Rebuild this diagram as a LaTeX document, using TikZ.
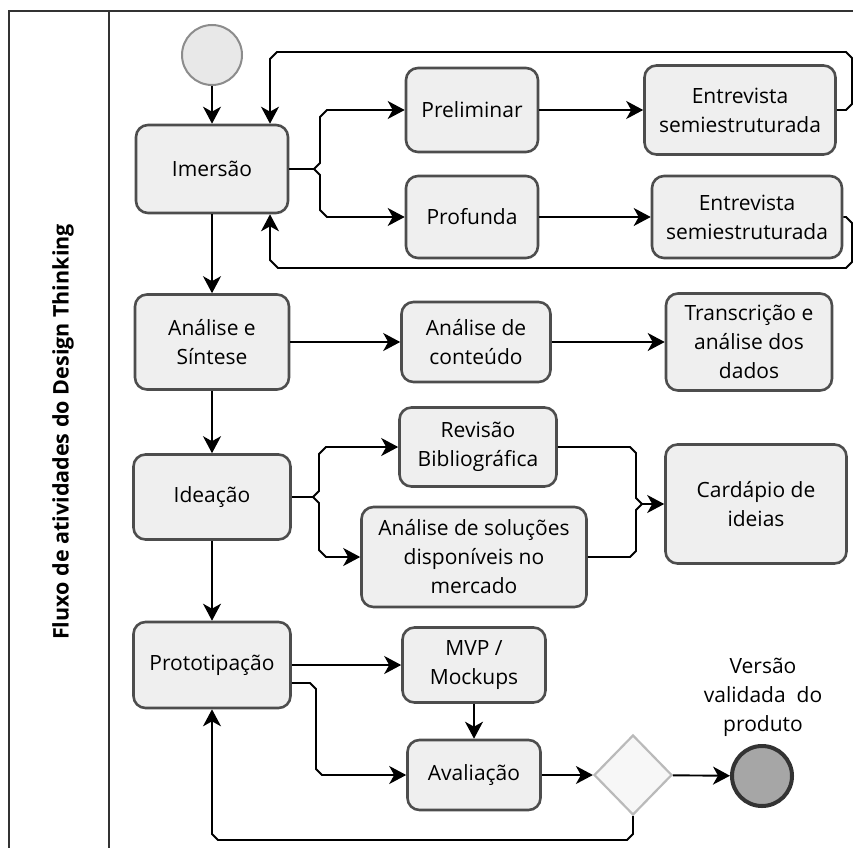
\documentclass[tikz,border=0pt]{standalone}
\usepackage{fontspec}
\setmainfont{Open Sans}
\usetikzlibrary{arrows.meta,shapes.geometric,calc}

\definecolor{boxfill}{HTML}{EFEFEF}
\definecolor{boxline}{HTML}{4D4D4D}
\definecolor{lanecol}{HTML}{333333}

\begin{document}
\begin{tikzpicture}[x=1pt,y=-1pt,
  every node/.style={font=\fontsize{21}{29}\selectfont},
  task/.style={draw=boxline, fill=boxfill, line width=2.6pt, rounded corners=12pt,
               align=center, inner sep=0pt},
  flow/.style={line width=1.9pt, -{Stealth[length=17pt,width=18pt,inset=5pt]}},
  wire/.style={line width=1.9pt},
  startev/.style={circle, draw=black!45, fill=black!9, line width=2pt, minimum size=60pt, inner sep=0pt},
  endev/.style={circle, draw=black!80, fill=black!35, line width=4pt, minimum size=60pt, inner sep=0pt},
  gate/.style={diamond, draw=black!27, fill=black!3, line width=2.2pt, minimum width=78pt,
               minimum height=80pt, inner sep=0pt}]

\useasboundingbox (0,0) rectangle (853,848);

% pool frame and lane header
\draw[line width=1.8pt, lanecol] (853,11) -- (9,11) -- (9,848);
\draw[line width=1.8pt, lanecol] (109,11) -- (109,848);
\node[rotate=90, font=\bfseries\fontsize{21.5}{26}\selectfont] (lane) at (63,432)
  {Fluxo de atividades do Design Thinking};

% events and gateway
\node[startev] (start) at (212,55) {};
\node[gate] (gate) at (633,775) {};
\node[endev] (endev) at (762,776) {};
\node[align=center] (endlbl) at (763,697) {Versão\\validada\ \ do\\produto};

% tasks
\node[task, minimum width=152pt, minimum height=88pt] (imer) at (212,169) {Imersão};
\node[task, minimum width=132pt, minimum height=84pt] (prel) at (472,110) {Preliminar};
\node[task, minimum width=191pt, minimum height=89pt] (ent1) at (740,110) {Entrevista\\semiestruturada};
\node[task, minimum width=132pt, minimum height=82pt] (prof) at (472,217) {Profunda};
\node[task, minimum width=190pt, minimum height=82pt] (ent2) at (747,217) {Entrevista\\semiestruturada};

\node[task, minimum width=154pt, minimum height=95pt] (anal) at (212,342) {Análise e\\Síntese};
\node[task, minimum width=149pt, minimum height=80pt] (acont) at (476,342) {Análise de\\conteúdo};
\node[task, minimum width=166pt, minimum height=97pt] (trans) at (749,342) {Transcrição e\\análise dos\\dados};

\node[task, minimum width=157pt, minimum height=85pt] (idea) at (212,497) {Ideação};
\node[task, minimum width=157pt, minimum height=79pt] (rev) at (478,447) {Revisão\\Bibliográfica};
\node[task, minimum width=225pt, minimum height=100pt] (asol) at (474,557) {Análise de soluções\\disponíveis no\\mercado};
\node[task, minimum width=181pt, minimum height=119pt] (card) at (756,504) {Cardápio de\\ideias};

\node[task, minimum width=157pt, minimum height=86pt] (proto) at (212,665) {Prototipação};
\node[task, minimum width=143pt, minimum height=75pt] (mvp) at (474,665) {MVP /\\Mockups};
\node[task, minimum width=133pt, minimum height=70pt] (aval) at (474,775) {Avaliação};

% main sequence
\draw[flow] (start) -- (imer);
\draw[flow] (imer) -- (anal);
\draw[flow] (anal) -- (idea);
\draw[flow] (idea) -- (proto);

% immersion branch
\coordinate (fkA) at (314,169);
\draw[wire] (imer.east) -- (fkA);
\draw[flow] (fkA) -- (320,163) -- (320,117) -- (327,110) -- (prel.west);
\draw[flow] (fkA) -- (320,175) -- (320,210) -- (327,217) -- (prof.west);
\draw[flow] (prel) -- (ent1);
\draw[flow] (prof) -- (ent2);
\draw[flow] (ent1.east) -- (846,110) -- (852,104) -- (852,58) -- (846,52) -- (277,52)
  -- (270,59) -- ($(imer.north)+(58,0)$);
\draw[flow] (ent2.east) -- (846,217) -- (852,223) -- (852,262) -- (846,268) -- (278,268)
  -- (270,260) -- ($(imer.south)+(58,0)$);

% analysis
\draw[flow] (anal) -- (acont);
\draw[flow] (acont) -- (trans);

% ideation branch and merge
\coordinate (fkB) at (313,497);
\draw[wire] (idea.east) -- (fkB);
\draw[flow] (fkB) -- (319,491) -- (319,454) -- (326,447) -- (rev.west);
\draw[flow] (fkB) -- (319,503) -- (319,550) -- (326,557) -- (asol.west);
\coordinate (mgB) at (642,504);
\draw[wire] (rev.east) -- (630,447) -- (636,453) -- (636,498) -- (mgB);
\draw[wire] (asol.east) -- (630,557) -- (636,551) -- (636,510) -- (mgB);
\draw[flow] (mgB) -- (card.west);

% prototyping
\draw[flow] (proto) -- (mvp);
\draw[flow] (mvp) -- (aval);
\draw[flow] ($(proto.east)+(0,18)$) -- (310,683) -- (316,689) -- (316,769) -- (322,775) -- (aval.west);
\draw[flow] (aval) -- (gate);
\draw[flow] (gate) -- (endev);
\draw[flow] (gate.south) -- (633,834) -- (627,840) -- (218,840) -- (212,834) -- (proto.south);

\end{tikzpicture}
\end{document}
